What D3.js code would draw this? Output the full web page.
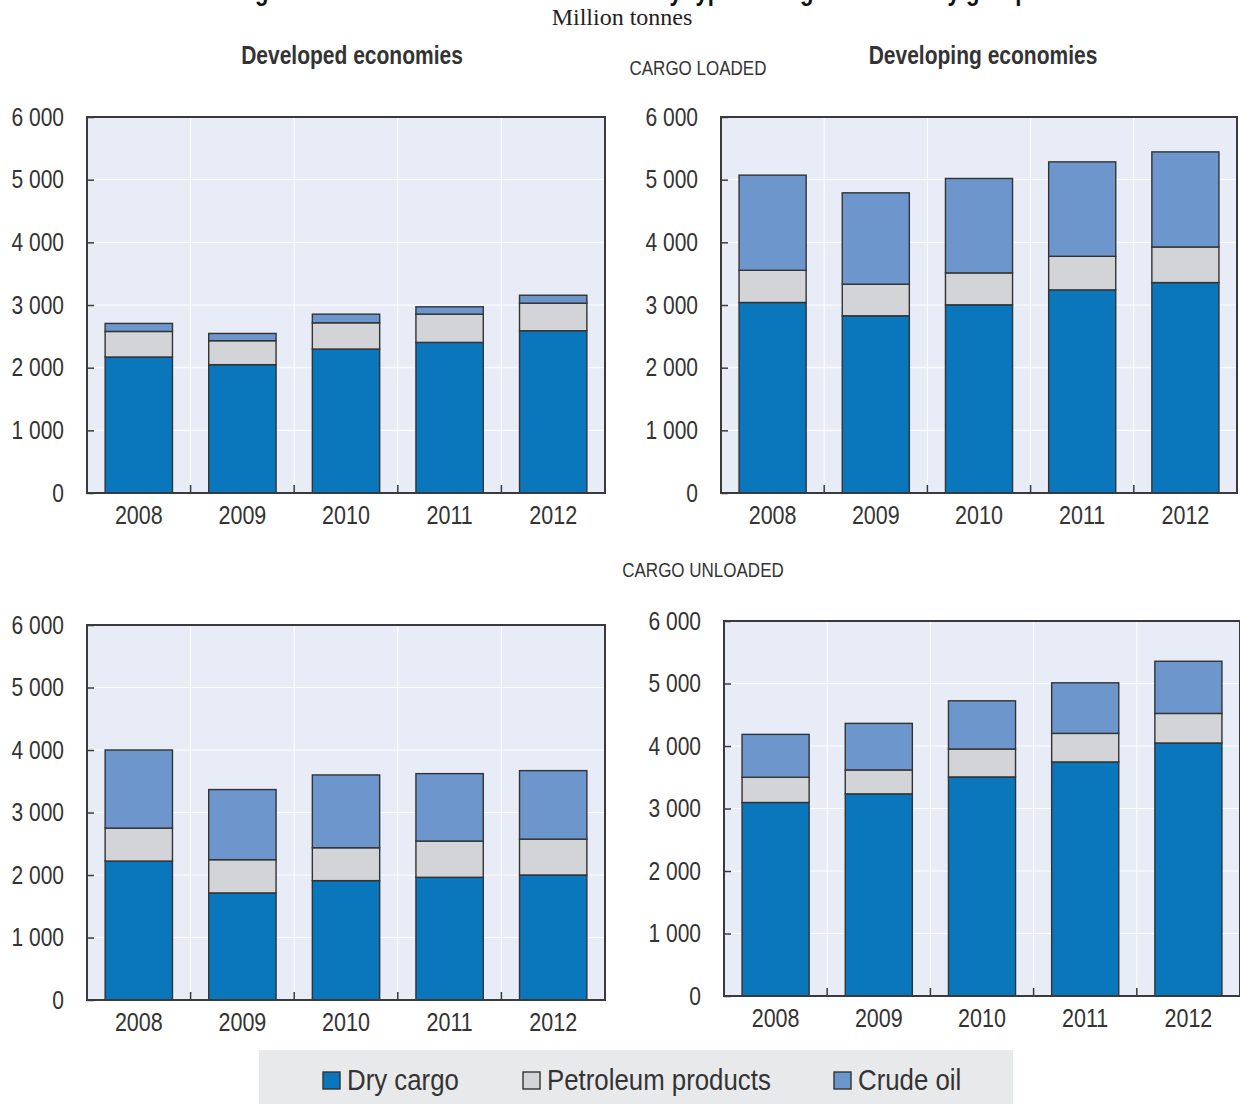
<!DOCTYPE html>
<html>
<head>
<meta charset="utf-8">
<script src="https://cdn.jsdelivr.net/npm/d3@7"></script>
<style>
  body { margin: 0; background: #fff; }
  svg { display: block; }
  .narrow { font-family: "Liberation Sans Narrow", "Arial Narrow", "Liberation Sans", sans-serif; }
</style>
</head>
<body>
<div id="chart"></div>
<script>
var years = ["2008", "2009", "2010", "2011", "2012"];
var yTicks = [0, 1000, 2000, 3000, 4000, 5000, 6000];
var keys = ["dry", "petroleum", "crude"];
var legendLabels = ["Dry cargo", "Petroleum products", "Crude oil"];

// developed economies, cargo loaded
var devLoadedDry = [2170, 2048, 2297, 2403, 2589];
var devLoadedPetroleum = [408, 382, 419, 451, 440];
var devLoadedCrude = [128, 116, 138, 117, 127];

// developing economies, cargo loaded
var dvgLoadedDry = [3040, 2828, 3003, 3241, 3358];
var dvgLoadedPetroleum = [514, 504, 509, 536, 568];
var dvgLoadedCrude = [1518, 1458, 1507, 1507, 1517];

// developed economies, cargo unloaded
var devUnloadedDry = [2223, 1713, 1910, 1963, 2000];
var devUnloadedPetroleum = [527, 532, 526, 580, 574];
var devUnloadedCrude = [1250, 1122, 1165, 1079, 1096];

// developing economies, cargo unloaded
var dvgUnloadedDry = [3096, 3234, 3505, 3745, 4048];
var dvgUnloadedPetroleum = [404, 383, 447, 457, 473];
var dvgUnloadedCrude = [686, 745, 771, 809, 835];

var color = d3.scaleOrdinal()
    .domain(keys)
    .range(["#0a76bb", "#d3d4d7", "#6d96cd"]);

var svg = d3.select("#chart").append("svg")
    .attr("width", 1240)
    .attr("height", 1104);

var textColor = "#333";
var frameColor = "#3a3a3a";

// squeeze text horizontally to mimic a condensed face
function condense(sel, k) {
    sel.each(function() {
        var w = this.getComputedTextLength();
        d3.select(this)
            .attr("textLength", w * k)
            .attr("lengthAdjust", "spacingAndGlyphs");
    });
}

// title (cut off at the top of the picture)
svg.append("text")
    .attr("class", "narrow")
    .attr("x", 632)
    .attr("y", 0)
    .attr("text-anchor", "middle")
    .style("font-size", "27px")
    .style("font-weight", "bold")
    .attr("fill", "#111")
    .text("Figure 1.2. International seaborne trade by type of cargo and country group")
    .call(condense, 0.82);

svg.append("text")
    .attr("x", 622)
    .attr("y", 25)
    .attr("text-anchor", "middle")
    .style("font-family", "'Liberation Serif', 'DejaVu Serif', serif")
    .style("font-size", "24px")
    .attr("fill", "#222")
    .text("Million tonnes");

// column headers
svg.append("text")
    .attr("class", "narrow")
    .attr("x", 352).attr("y", 64)
    .attr("text-anchor", "middle")
    .style("font-size", "25px").style("font-weight", "bold")
    .attr("fill", textColor)
    .text("Developed economies")
    .call(condense, 0.84);

svg.append("text")
    .attr("class", "narrow")
    .attr("x", 983).attr("y", 64)
    .attr("text-anchor", "middle")
    .style("font-size", "25px").style("font-weight", "bold")
    .attr("fill", textColor)
    .text("Developing economies")
    .call(condense, 0.84);

svg.append("text")
    .attr("class", "narrow")
    .attr("x", 698).attr("y", 75)
    .attr("text-anchor", "middle")
    .style("font-size", "20px")
    .attr("fill", textColor)
    .text("CARGO LOADED")
    .call(condense, 0.85);

svg.append("text")
    .attr("class", "narrow")
    .attr("x", 703).attr("y", 577)
    .attr("text-anchor", "middle")
    .style("font-size", "20px")
    .attr("fill", textColor)
    .text("CARGO UNLOADED")
    .call(condense, 0.85);

function drawPanel(left, right, top, bottom, dry, petroleum, crude) {
    var data = years.map(function(y, i) {
        return {year: y, dry: dry[i], petroleum: petroleum[i], crude: crude[i]};
    });

    var x = d3.scaleBand()
        .domain(years)
        .range([left, right])
        .paddingInner(0.35)
        .paddingOuter(0.175);

    var y = d3.scaleLinear()
        .domain([0, 6000])
        .range([bottom, top]);

    var g = svg.append("g");

    // plot background
    g.append("rect")
        .attr("x", left).attr("y", top)
        .attr("width", right - left).attr("height", bottom - top)
        .attr("fill", "#e8ecf7");

    // horizontal grid lines
    g.append("g")
        .selectAll("line")
        .data(yTicks.filter(function(d) { return d > 0 && d < 6000; }))
        .enter()
        .append("line")
        .attr("x1", left).attr("x2", right)
        .attr("y1", function(d) { return y(d); })
        .attr("y2", function(d) { return y(d); })
        .attr("stroke", "#fff")
        .attr("stroke-width", 1);

    // band boundaries: vertical grid lines and inward ticks
    var bounds = d3.range(1, years.length).map(function(i) { return left + i * x.step(); });
    g.append("g")
        .selectAll("line")
        .data(bounds)
        .enter()
        .append("line")
        .attr("x1", function(d) { return d; }).attr("x2", function(d) { return d; })
        .attr("y1", top).attr("y2", bottom)
        .attr("stroke", "#fff")
        .attr("stroke-width", 1);

    // stacked bars
    var stacked = d3.stack().keys(keys)(data);
    g.selectAll("g.layer")
        .data(stacked)
        .enter()
        .append("g")
        .attr("class", "layer")
        .attr("fill", function(d) { return color(d.key); })
        .selectAll("rect")
        .data(function(d) { return d; })
        .enter()
        .append("rect")
        .attr("x", function(d) { return x(d.data.year); })
        .attr("y", function(d) { return y(d[1]); })
        .attr("width", x.bandwidth())
        .attr("height", function(d) { return y(d[0]) - y(d[1]); })
        .attr("stroke", "#333")
        .attr("stroke-width", 1.4);

    // x tick marks between bars
    g.append("g")
        .selectAll("line")
        .data(bounds)
        .enter()
        .append("line")
        .attr("x1", function(d) { return d; }).attr("x2", function(d) { return d; })
        .attr("y1", bottom).attr("y2", bottom - 8)
        .attr("stroke", frameColor)
        .attr("stroke-width", 1.5);

    // y axis, ticks pointing inward
    var yAxis = g.append("g")
        .attr("transform", "translate(" + left + ",0)")
        .call(d3.axisLeft(y)
            .tickValues(yTicks)
            .tickSize(-7)
            .tickPadding(23)
            .tickFormat(function(d) { return d3.format(",")(d).replace(",", " "); }));
    yAxis.select(".domain").remove();
    yAxis.selectAll(".tick line").attr("stroke", frameColor).attr("stroke-width", 1.5);
    yAxis.selectAll(".tick text")
        .attr("class", "narrow")
        .attr("fill", textColor)
        .style("font-size", "25px")
        .call(condense, 0.84);

    // x axis labels
    var xAxis = g.append("g")
        .attr("transform", "translate(0," + bottom + ")")
        .call(d3.axisBottom(x).tickSize(0).tickPadding(13));
    xAxis.select(".domain").remove();
    xAxis.selectAll(".tick text")
        .attr("class", "narrow")
        .attr("fill", textColor)
        .style("font-size", "25px")
        .call(condense, 0.86);

    // frame
    g.append("rect")
        .attr("x", left).attr("y", top)
        .attr("width", right - left).attr("height", bottom - top)
        .attr("fill", "none")
        .attr("stroke", frameColor)
        .attr("stroke-width", 2);
}

drawPanel(87, 605, 117, 493, devLoadedDry, devLoadedPetroleum, devLoadedCrude);
drawPanel(721, 1237, 117, 493, dvgLoadedDry, dvgLoadedPetroleum, dvgLoadedCrude);
drawPanel(87, 605, 625, 1000, devUnloadedDry, devUnloadedPetroleum, devUnloadedCrude);
drawPanel(724, 1240, 621, 996, dvgUnloadedDry, dvgUnloadedPetroleum, dvgUnloadedCrude);

// legend
svg.append("rect")
    .attr("x", 259).attr("y", 1050)
    .attr("width", 754).attr("height", 54)
    .attr("fill", "#e8e9eb");

var legendX = [323, 523, 834];
var legend = svg.selectAll("g.legend")
    .data(keys)
    .enter()
    .append("g")
    .attr("class", "legend")
    .attr("transform", function(d, i) { return "translate(" + legendX[i] + ",1072)"; });

legend.append("rect")
    .attr("width", 17).attr("height", 17)
    .attr("fill", function(d) { return color(d); })
    .attr("stroke", "#333")
    .attr("stroke-width", 1.4);

legend.append("text")
    .attr("class", "narrow")
    .attr("x", 24).attr("y", 18)
    .style("font-size", "29px")
    .attr("fill", textColor)
    .text(function(d, i) { return legendLabels[i]; })
    .call(condense, 0.89);
</script>
</body>
</html>
